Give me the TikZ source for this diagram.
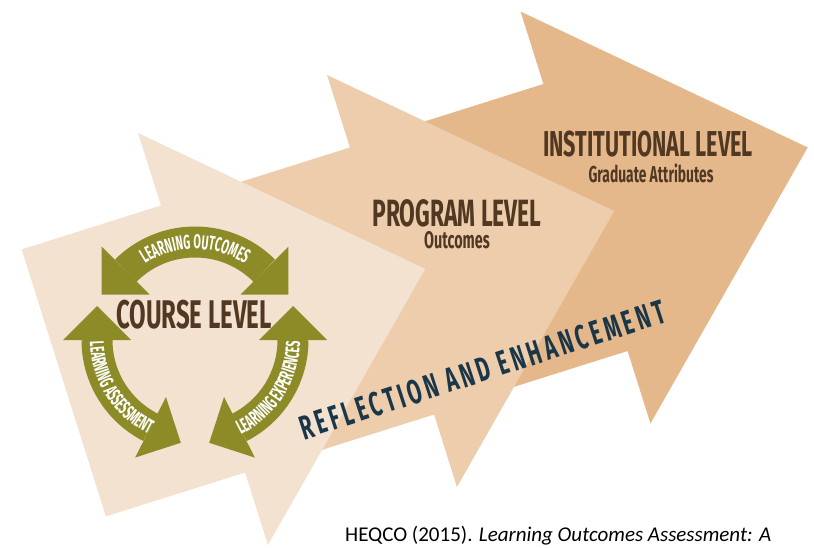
\documentclass[tikz,border=0pt]{standalone}
\usepackage{fontspec}
\usetikzlibrary{calc,decorations.text}

\newfontfamily\dinfont[FakeStretch=0.6]{Fira Sans}
\newfontfamily\bandfamily[FakeStretch=0.54]{Fira Sans}
\newfontfamily\reflfont[FakeStretch=0.6, LetterSpace=11]{Fira Sans}
\newfontfamily\citefont{Carlito}

\definecolor{courseclr}{RGB}{244,226,209}
\definecolor{programclr}{RGB}{237,205,172}
\definecolor{instclr}{RGB}{229,184,139}
\definecolor{cycgreen}{RGB}{141,139,40}
\definecolor{labelbrown}{RGB}{80,56,34}
\definecolor{reflectblue}{RGB}{25,55,72}

\tikzset{
  level label/.style={text=labelbrown, inner sep=0pt, anchor=base},
  cycle band/.style={draw=cycgreen, line width=31pt},
  band text/.style={decorate, decoration={text along path, text align=center, text color=white}},
}

% arrow head of the course cycle: #1 = angle of the band end, #2 = +90 or -90
\newcommand{\cychead}[2]{%
  \fill[cycgreen] ($(C)+(#1:64)$) -- ($(C)+(#1:132)$) -- ($(C)+(#1:98)+(#1#2:34)$) -- cycle;}
\newcommand{\bandfont}{\bandfamily\bfseries\fontsize{20}{20}\selectfont}

\begin{document}
\begin{tikzpicture}[x=1pt, y=-1pt]
    \useasboundingbox (0,0) rectangle (814,548);

    % level arrows, back to front
    \foreach \x/\y/\clr in {585.5/217.5/instclr, 392/281/programclr, 203/339/courseclr}
        \fill[\clr, shift={(\x,\y)}, rotate=17.5] (-146,-140) -- (0,-140) -- (0,-216) -- (233,0)
            -- (0,216) -- (0,140) -- (-146,140) -- cycle;

    % level titles
    \node[level label, font=\dinfont\bfseries\fontsize{36}{36}\selectfont] (inst) at (648,157) {INSTITUTIONAL LEVEL};
    \node[level label, font=\dinfont\bfseries\fontsize{23}{23}\selectfont] (instsub) at (651,183) {Graduate Attributes};
    \node[level label, font=\dinfont\bfseries\fontsize{38}{38}\selectfont] (prog) at (457,226) {PROGRAM LEVEL};
    \node[level label, font=\dinfont\bfseries\fontsize{24}{24}\selectfont] (progsub) at (457,248) {Outcomes};
    \node[level label, font=\dinfont\bfseries\fontsize{40}{40}\selectfont] (course) at (194,328) {COURSE LEVEL};

    % course cycle
    \coordinate (C) at (195,340);
    \draw[cycle band] ($(C)+(225:98)$) arc[start angle=225, end angle=315, radius=98];
    \draw[cycle band] ($(C)+(180:98)$) arc[start angle=180, end angle=117, radius=98];
    \draw[cycle band] ($(C)+(0:98)$) arc[start angle=0, end angle=63, radius=98];
    \cychead{225}{-90} \cychead{315}{+90}
    \cychead{180}{+90} \cychead{117}{-90}
    \cychead{0}{-90}   \cychead{63}{+90}

    \path[band text, decoration={text={|\bandfont|LEARNING OUTCOMES}}]
        ($(C)+(220:91)$) arc[start angle=220, end angle=320, radius=91];
    \path[band text, decoration={text={|\bandfont|LEARNING ASSESSMENT}}]
        ($(C)+(192:105)$) arc[start angle=192, end angle=103, radius=105];
    \path[band text, decoration={text={|\bandfont|LEARNING EXPERIENCES}}]
        ($(C)+(77:105)$) arc[start angle=77, end angle=-12, radius=105];

    % banner text across the arrows
    \node[text=reflectblue, font=\reflfont\bfseries\fontsize{34}{34}\selectfont, rotate=18, anchor=base, inner sep=0pt]
        (reflect) at (486,381) {REFLECTION AND ENHANCEMENT};

    \node[font=\citefont\fontsize{21}{21}\selectfont, anchor=base west, inner sep=0pt]
        (cite) at (345,541) {HEQCO (2015). \textit{Learning Outcomes Assessment: A}};
\end{tikzpicture}
\end{document}
